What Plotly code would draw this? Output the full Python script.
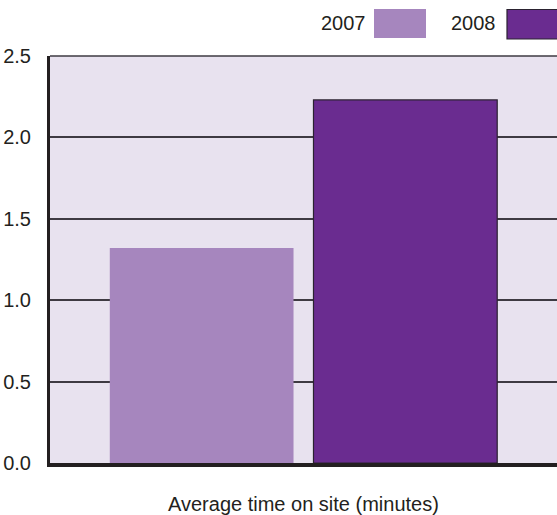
import plotly.graph_objects as go

# Data
categories = ["Average time on site (minutes)"]
series_names = ["2007", "2008"]
values_2007 = [1.32]
values_2008 = [2.23]
y_ticks = [0.0, 0.5, 1.0, 1.5, 2.0, 2.5]
y_tick_labels = ["0.0", "0.5", "1.0", "1.5", "2.0", "2.5"]

# Styling
W, H = 557, 515
M_L, M_R, M_T, M_B = 50, 0, 56, 52
FONT = "Liberation Sans, Arial, sans-serif"
TEXT = "#231f20"
PLOT_BG = "#e8e2ef"
C_2007 = "#a686be"
C_2008 = "#6a2c90"
EDGE = "#2a2230"
GRID = "#3e3a42"

plot_w = W - M_L - M_R
plot_h = H - M_T - M_B


def px_x(px):
    return (px - M_L) / plot_w


def px_y(py):
    return (H - M_B - py) / plot_h


fig = go.Figure()
fig.add_trace(go.Bar(
    x=categories, y=values_2007, name=series_names[0],
    marker=dict(color=C_2007, line=dict(width=0)),
))
fig.add_trace(go.Bar(
    x=categories, y=values_2008, name=series_names[1],
    marker=dict(color=C_2008, line=dict(color=EDGE, width=1.2)),
))

shapes = [
    # thin line closing the top of the plot area
    dict(type="line", xref="paper", yref="paper", x0=0, x1=1, y0=1, y1=1,
         line=dict(color=GRID, width=1.5), layer="below"),
    # legend swatches
    dict(type="rect", xref="paper", yref="paper",
         x0=px_x(374), x1=px_x(426), y0=px_y(38), y1=px_y(9),
         fillcolor=C_2007, line=dict(width=0)),
    dict(type="rect", xref="paper", yref="paper",
         x0=px_x(507), x1=px_x(562), y0=px_y(39), y1=px_y(9.5),
         fillcolor=C_2008, line=dict(color=EDGE, width=1.2)),
]

annotations = [
    dict(text=series_names[0], xref="paper", yref="paper",
         x=px_x(368), y=px_y(23), xanchor="right", yanchor="middle",
         showarrow=False, font=dict(family=FONT, size=20, color=TEXT)),
    dict(text=series_names[1], xref="paper", yref="paper",
         x=px_x(498), y=px_y(23), xanchor="right", yanchor="middle",
         showarrow=False, font=dict(family=FONT, size=20, color=TEXT)),
    # category label, centred under the bar group
    dict(text=categories[0], xref="x", yref="paper",
         x=categories[0], y=px_y(504), xanchor="center", yanchor="middle",
         showarrow=False, font=dict(family=FONT, size=20, color=TEXT)),
]

fig.update_layout(
    width=W, height=H,
    margin=dict(l=M_L, r=M_R, t=M_T, b=M_B, pad=0),
    paper_bgcolor="white",
    plot_bgcolor=PLOT_BG,
    barmode="group",
    bargap=0.1965,
    bargroupgap=0.098,
    showlegend=False,
    shapes=shapes,
    annotations=annotations,
    font=dict(family=FONT, color=TEXT),
    xaxis=dict(
        range=[-0.5, 0.5], showticklabels=False, ticks="",
        showgrid=False, zeroline=False,
        showline=True, linecolor=TEXT, linewidth=4,
        fixedrange=True,
    ),
    yaxis=dict(
        range=[0, 2.5], tickvals=y_ticks, ticktext=y_tick_labels,
        ticks="", ticklabelstandoff=12,
        tickfont=dict(family=FONT, size=20, color=TEXT),
        showgrid=True, gridcolor=GRID, gridwidth=1.5,
        zeroline=False,
        showline=True, linecolor=TEXT, linewidth=3,
        fixedrange=True,
    ),
)

fig.write_html("out.html", config=dict(displayModeBar=False))
